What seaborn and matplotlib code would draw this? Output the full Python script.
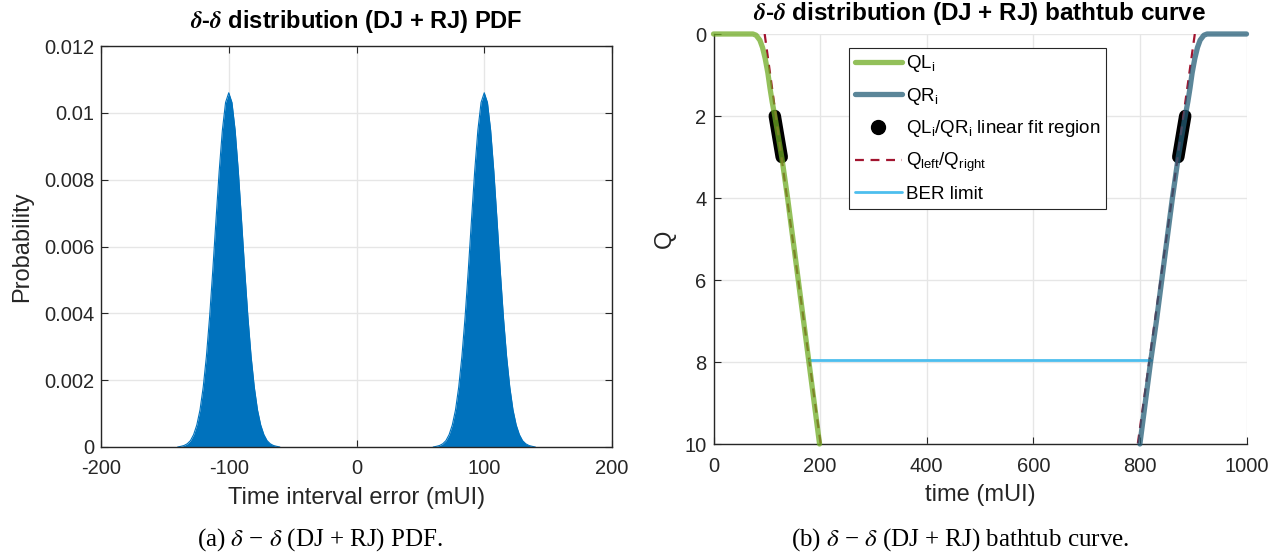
import numpy as np
import pandas as pd
import matplotlib
matplotlib.use("Agg")
import matplotlib.pyplot as plt
import seaborn as sns
from matplotlib.lines import Line2D
from matplotlib.ticker import FuncFormatter, MultipleLocator

# ---------------- data ----------------
# PDF: one Gaussian-shaped peak (offset from centre in mUI, probability); two identical peaks
peak_centres = [-100, 100]
peak_offsets = [-40, -37.5, -35, -32.5, -30, -27.5, -25, -22.5, -20, -17.5, -15, -12.5, -10,
                -7.5, -5, -2.5, 0, 2.5, 5, 7.5, 10, 12.5, 15, 17.5, 20, 22.5, 25, 27.5,
                30, 32.5, 35, 37.5, 40]
peak_prob = [0.0, 0.00002, 0.000045, 0.000096, 0.00019, 0.00037, 0.00066, 0.00111, 0.00179,
             0.00271, 0.00389, 0.00529, 0.00679, 0.00825, 0.00948, 0.01031, 0.01060,
             0.01031, 0.00948, 0.00825, 0.00679, 0.00529, 0.00389, 0.00271, 0.00179,
             0.00111, 0.00066, 0.00037, 0.00019, 0.000096, 0.000045, 0.00002, 0.0]

# Bathtub curve
ql_time = [0, 74, 80, 87, 92, 97, 102, 106, 110, 115, 128, 139, 149, 159, 169, 179, 189, 199]
ql_q = [0, 0, 0.03, 0.15, 0.33, 0.6, 0.95, 1.32, 1.65, 2.0, 3.0, 4.0, 5.0, 6.0, 7.0, 8.0, 9.0, 10.0]
qr_time = [1000, 926, 920, 913, 908, 903, 898, 894, 890, 885, 872, 861, 851, 841, 831, 820, 810, 800]
qr_q = [0, 0, 0.03, 0.15, 0.33, 0.6, 0.95, 1.32, 1.65, 2.0, 3.0, 4.0, 5.0, 6.0, 7.0, 8.0, 9.0, 10.0]
fitL_time = [115, 128]
fitL_q = [2.0, 3.0]
fitR_time = [885, 872]
fitR_q = [2.0, 3.0]
qleft_time = [96, 201]
qleft_q = [0, 10]
qright_time = [903, 796]
qright_q = [0, 10]
ber_time = [179, 821]
ber_q = [7.94, 7.94]

# ---------------- style ----------------
sns.set_theme(style="whitegrid")
plt.rcParams["font.family"] = ["Liberation Sans", "DejaVu Sans"]
plt.rcParams["mathtext.fontset"] = "stix"
plt.rcParams["mathtext.default"] = "regular"
plt.rcParams["axes.unicode_minus"] = False

DARK = "#262626"
GRID = "#e6e6e6"

fig = plt.figure(figsize=(12.8, 5.56), dpi=100)
W, H = 1280, 556

def axes_px(x0, x1, ytop, ybot):
    return fig.add_axes([x0 / W, (H - ybot) / H, (x1 - x0) / W, (ybot - ytop) / H])

def style_axes(ax, box):
    ax.set_facecolor("white")
    ax.grid(True, color=GRID, linewidth=1.0)
    ax.set_axisbelow(True)
    for s in ["left", "bottom", "top", "right"]:
        ax.spines[s].set_color(DARK)
        ax.spines[s].set_linewidth(1.0)
    if not box:
        ax.spines["top"].set_visible(False)
        ax.spines["right"].set_visible(False)
    ax.tick_params(direction="in", length=5, width=0.8, color=DARK, labelcolor=DARK,
                   labelsize=14.5, top=box, right=box, bottom=True, left=True)
    ax.tick_params(axis="x", pad=9)
    ax.tick_params(axis="y", pad=5)

# ---------------- left: PDF ----------------
ax1 = axes_px(101, 612, 46, 447)
style_axes(ax1, True)
for c in peak_centres:
    df = pd.DataFrame({"t": [c + o for o in peak_offsets], "p": peak_prob})
    ax1.fill_between(df["t"], df["p"], 0, color="#0072BD", linewidth=0)
    sns.lineplot(data=df, x="t", y="p", ax=ax1, color="#0072BD", linewidth=0.8,
                 sort=False, estimator=None)
ax1.set_xlim(-200, 200)
ax1.set_ylim(0, 0.012)
ax1.xaxis.set_major_locator(MultipleLocator(100))
ax1.yaxis.set_major_locator(MultipleLocator(0.002))
ax1.yaxis.set_major_formatter(FuncFormatter(lambda v, p: "%g" % round(v, 6)))
ax1.set_xlabel("Time interval error (mUI)", fontsize=17, color=DARK, labelpad=6)
ax1.set_ylabel("Probability", fontsize=17, color=DARK)
ax1.yaxis.set_label_coords((33 - 101) / 511, 0.5)
ax1.set_title(r"$\boldsymbol{\delta}$-$\boldsymbol{\delta}$ distribution (DJ + RJ) PDF",
              fontsize=17, fontweight="bold", color="black", pad=13)

# ---------------- right: bathtub ----------------
ax2 = axes_px(713.5, 1246.5, 34, 444)
style_axes(ax2, False)

green_base = "#6FAB23"
blue_base = "#245D77"
red = "#A2142F"
ber_col = "#4DBEEE"

ax2.plot(fitL_time, fitL_q, color="black", linewidth=9, solid_capstyle="round", zorder=3)
ax2.plot(fitR_time, fitR_q, color="black", linewidth=9, solid_capstyle="round", zorder=3)
ax2.plot(qleft_time, qleft_q, color=red, linewidth=1.6, linestyle=(0, (4, 3)), zorder=3)
ax2.plot(qright_time, qright_q, color=red, linewidth=1.6, linestyle=(0, (4, 3)), zorder=3)
ax2.plot(ber_time, ber_q, color=ber_col, linewidth=2.0, zorder=3)
dfl = pd.DataFrame({"t": ql_time, "q": ql_q})
dfr = pd.DataFrame({"t": qr_time, "q": qr_q})
sns.lineplot(data=dfl, x="t", y="q", ax=ax2, color=green_base, alpha=0.75, linewidth=3.8,
             sort=False, estimator=None, zorder=4, clip_on=False)
sns.lineplot(data=dfr, x="t", y="q", ax=ax2, color=blue_base, alpha=0.75, linewidth=3.8,
             sort=False, estimator=None, zorder=4, clip_on=False)
ax2.set_xlim(0, 1000)
ax2.set_ylim(10, 0)
ax2.xaxis.set_major_locator(MultipleLocator(200))
ax2.yaxis.set_major_locator(MultipleLocator(2))
ax2.set_xlabel("time (mUI)", fontsize=17, color=DARK, labelpad=6)
ax2.set_ylabel("Q", fontsize=17, color=DARK)
ax2.yaxis.set_label_coords((676 - 713.5) / 533, 0.5)
ax2.set_title(r"$\boldsymbol{\delta}$-$\boldsymbol{\delta}$ distribution (DJ + RJ) bathtub curve",
              fontsize=17.5, fontweight="bold", color="black", pad=10)

handles = [
    Line2D([], [], color=green_base, alpha=0.75, linewidth=3.8),
    Line2D([], [], color=blue_base, alpha=0.75, linewidth=3.8),
    Line2D([], [], color="black", linestyle="none", marker="o", markersize=10),
    Line2D([], [], color=red, linewidth=1.6, linestyle=(0, (4, 3))),
    Line2D([], [], color=ber_col, linewidth=2.0),
]
labels = [r"QL$_{i}$", r"QR$_{i}$", r"QL$_{i}$/QR$_{i}$ linear fit region",
          r"Q$_{left}$/Q$_{right}$", "BER limit"]
leg = ax2.legend(handles, labels, loc="upper left",
                 bbox_to_anchor=((849 - 713.5) / 533, (444 - 47.5) / 410),
                 borderaxespad=0, fontsize=13.5, frameon=True, fancybox=False,
                 edgecolor=DARK, framealpha=1, handlelength=2.5, handletextpad=0.25,
                 labelspacing=0.62, borderpad=0.3)
leg.get_frame().set_linewidth(0.8)
for t in leg.get_texts():
    t.set_color("black")

# ---------------- captions ----------------
fig.text(320, H - 540, r"(a) $\mathit{\delta}$ $-$ $\mathit{\delta}$ (DJ + RJ) PDF.", ha="center",
         va="center", fontsize=18, family=["Liberation Serif", "DejaVu Serif"], color="black",
         transform=None)
fig.text(960, H - 540, r"(b) $\mathit{\delta}$ $-$ $\mathit{\delta}$ (DJ + RJ) bathtub curve.",
         ha="center", va="center", fontsize=18, family=["Liberation Serif", "DejaVu Serif"],
         color="black", transform=None)

fig.savefig("out.png", dpi=100, facecolor="white")
